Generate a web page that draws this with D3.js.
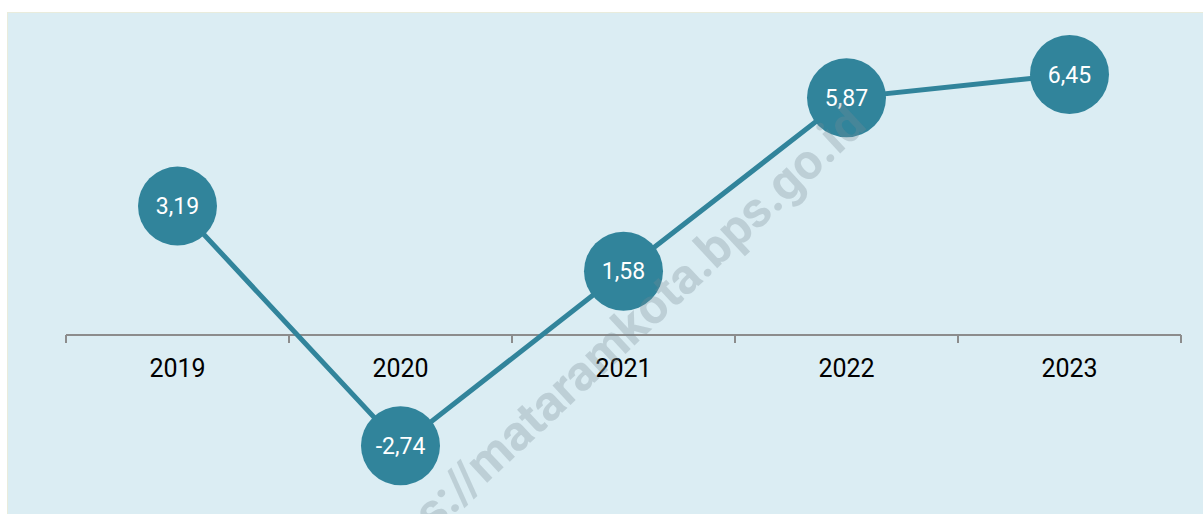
<!DOCTYPE html>
<html>
<head>
<meta charset="utf-8">
<script src="https://cdn.jsdelivr.net/npm/d3@7"></script>
<style>
  html, body { margin: 0; padding: 0; background: #ffffff; }
  svg { display: block; }
</style>
</head>
<body>
<svg id="chart" width="1203" height="514"></svg>
<script>
// Annual growth (%) per year
const years = ["2019", "2020", "2021", "2022", "2023"];
const growth = [3.19, -2.74, 1.58, 5.87, 6.45];
const growthLabels = ["3,19", "-2,74", "1,58", "5,87", "6,45"];
const watermarkText = "https://mataramkota.bps.go.id";

const W = 1203, H = 514;
const svg = d3.select("#chart");

// panel background
svg.append("rect")
  .attr("x", 7.5).attr("y", 12.5)
  .attr("width", W).attr("height", H)
  .attr("fill", "#dbedf3")
  .attr("stroke", "#e9ecdc").attr("stroke-width", 1);

const x = d3.scaleBand().domain(years).range([66, 1181]).padding(0);
const y = d3.scaleLinear().domain([-4, 8]).range([335 + 4 * 40.4, 335 - 8 * 40.4]);

// category axis at zero
const axis = d3.axisBottom(x).tickSize(0).tickPadding(24);
const gAxis = svg.append("g").attr("transform", `translate(0,${y(0)})`).call(axis);
gAxis.select(".domain").remove();
gAxis.selectAll("text")
  .attr("font-family", "Roboto, sans-serif")
  .attr("font-size", 25)
  .attr("fill", "#000");

gAxis.append("line")
  .attr("x1", x.range()[0]).attr("x2", x.range()[1])
  .attr("y1", 0).attr("y2", 0)
  .attr("stroke", "#8c8c8c").attr("stroke-width", 2);

const bounds = years.map(d => x(d)).concat([x.range()[1]]);
gAxis.selectAll("line.tk").data(bounds).enter().append("line")
  .attr("class", "tk")
  .attr("x1", d => d).attr("x2", d => d)
  .attr("y1", 0).attr("y2", 8)
  .attr("stroke", "#8c8c8c").attr("stroke-width", 2);

const pts = years.map((yr, i) => ({ yr, v: growth[i], label: growthLabels[i] }));
const cx = d => x(d.yr) + x.bandwidth() / 2;

svg.append("path")
  .datum(pts)
  .attr("fill", "none")
  .attr("stroke", "#31849b")
  .attr("stroke-width", 5)
  .attr("d", d3.line().x(cx).y(d => y(d.v)));

svg.selectAll("circle.pt").data(pts).enter().append("circle")
  .attr("class", "pt")
  .attr("cx", cx).attr("cy", d => y(d.v))
  .attr("r", 39.5)
  .attr("fill", "#31849b");

svg.selectAll("text.val").data(pts).enter().append("text")
  .attr("class", "val")
  .attr("x", cx).attr("y", d => y(d.v))
  .attr("dy", "0.36em")
  .attr("text-anchor", "middle")
  .attr("font-family", "Roboto, sans-serif")
  .attr("font-size", 23)
  .attr("fill", "#ffffff")
  .text(d => d.label);

// site watermark
svg.append("text")
  .attr("transform", "translate(606,348) rotate(-43)")
  .attr("text-anchor", "middle")
  .attr("dy", "0.35em")
  .attr("font-family", "Roboto, sans-serif")
  .attr("font-weight", "bold")
  .attr("font-size", 50)
  .attr("fill", "rgba(120,140,150,0.3)")
  .text(watermarkText);
</script>
</body>
</html>
